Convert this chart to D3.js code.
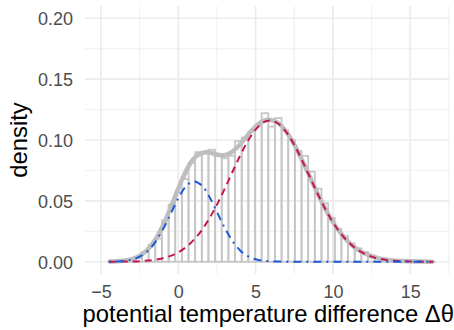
<!DOCTYPE html>
<html>
<head>
<meta charset="utf-8">
<script src="https://cdn.jsdelivr.net/npm/d3@7"></script>
<style>
  html, body { margin: 0; padding: 0; background: #fff; }
  svg { display: block; }
  text { font-family: "Liberation Sans", Arial, sans-serif; }
</style>
</head>
<body>
<svg id="chart" width="454" height="330"></svg>
<script>
// ---- data ----
const binStart = -4.5;
const binWidth = 0.43;
const histHeights = [0.0005, 0.0005, 0.001, 0.002, 0.003, 0.008, 0.014, 0.019, 0.034, 0.047,
  0.057, 0.068, 0.081, 0.090, 0.089, 0.092, 0.087, 0.085, 0.087, 0.099,
  0.102, 0.107, 0.112, 0.122, 0.111, 0.118, 0.108, 0.100, 0.091, 0.087,
  0.074, 0.060, 0.048, 0.036, 0.027, 0.021, 0.015, 0.011, 0.008, 0.005,
  0.003, 0.002, 0.001, 0.001, 0.0005, 0.0003, 0.0002, 0.0001, 0.0001];

const curveX = [-4.5, -4, -3.5, -3, -2.5, -2, -1.5, -1, -0.5, 0, 0.5, 1, 1.5, 2, 2.5, 3, 3.5, 4,
  4.5, 5, 5.5, 6, 6.5, 7, 7.5, 8, 8.5, 9, 9.5, 10, 10.5, 11, 11.5, 12, 12.5, 13, 13.5, 14,
  14.5, 15, 15.5, 16, 16.5];
const densityTotal = [0.0002, 0.0004, 0.0010, 0.0022, 0.0048, 0.0097, 0.0178, 0.0295, 0.0442,
  0.0600, 0.0745, 0.0848, 0.0893, 0.0898, 0.0880, 0.0875, 0.0905, 0.0965, 0.1040, 0.1110,
  0.1158, 0.1165, 0.1135, 0.1065, 0.0962, 0.0836, 0.0700, 0.0563, 0.0436, 0.0325, 0.0235,
  0.0163, 0.0109, 0.0071, 0.0045, 0.0028, 0.0016, 0.0009, 0.0005, 0.0003, 0.0002, 0.0001, 0.0000];
const componentWarm = [0.00003, 0.00006, 0.00012, 0.00025, 0.00049, 0.00092, 0.00166, 0.00289,
  0.00483, 0.00776, 0.0120, 0.0179, 0.0256, 0.0354, 0.0469, 0.0599, 0.0737, 0.0872, 0.0992,
  0.1085, 0.1144, 0.1160, 0.1131, 0.1062, 0.0960, 0.0834, 0.0698, 0.0562, 0.0435, 0.0324,
  0.0233, 0.0161, 0.0107, 0.0068, 0.0042, 0.0025, 0.0014, 0.00078, 0.00041, 0.00021,
  0.0001, 0.00005, 0.00002];
const componentCold = [0.00007, 0.00024, 0.00069, 0.00179, 0.00414, 0.0086, 0.0159, 0.0264,
  0.0392, 0.0521, 0.0620, 0.0660, 0.0629, 0.0536, 0.0408, 0.0279, 0.0170, 0.0093, 0.00454,
  0.00199, 0.00078, 0.00027, 0.00009, 0.00003, 0, 0, 0, 0, 0, 0, 0, 0, 0, 0, 0, 0, 0, 0,
  0, 0, 0, 0, 0];

const xMajorTicks = [-5, 0, 5, 10, 15];
const xMinorTicks = [-2.5, 2.5, 7.5, 12.5, 17.5];
const yMajorTicks = [0, 0.05, 0.10, 0.15, 0.20];
const yMinorTicks = [0.025, 0.075, 0.125, 0.175];
const xTitle = "potential temperature difference Δθ";
const yTitle = "density";

// ---- layout ----
const svg = d3.select("#chart");
const panel = { left: 85, right: 449.5, top: 6.1, bottom: 273.9 };
const x = d3.scaleLinear().domain([-6.035, 17.54]).range([panel.left, panel.right]);
const y = d3.scaleLinear().domain([-0.01, 0.21]).range([panel.bottom, panel.top]);

const grid = svg.append("g");
grid.selectAll("line.ymin").data(yMinorTicks).join("line")
  .attr("x1", panel.left).attr("x2", panel.right)
  .attr("y1", d => y(d)).attr("y2", d => y(d))
  .attr("stroke", "#EBEBEB").attr("stroke-width", 0.8);
grid.selectAll("line.xmin").data(xMinorTicks).join("line")
  .attr("y1", panel.top).attr("y2", panel.bottom)
  .attr("x1", d => x(d)).attr("x2", d => x(d))
  .attr("stroke", "#EBEBEB").attr("stroke-width", 0.8);
grid.selectAll("line.ymaj").data(yMajorTicks).join("line")
  .attr("x1", panel.left).attr("x2", panel.right)
  .attr("y1", d => y(d)).attr("y2", d => y(d))
  .attr("stroke", "#EBEBEB").attr("stroke-width", 1.6);
grid.selectAll("line.xmaj").data(xMajorTicks).join("line")
  .attr("y1", panel.top).attr("y2", panel.bottom)
  .attr("x1", d => x(d)).attr("x2", d => x(d))
  .attr("stroke", "#EBEBEB").attr("stroke-width", 1.6);

// histogram
const bins = histHeights.map((h, i) => ({ x0: binStart + i * binWidth, x1: binStart + (i + 1) * binWidth, h }));
svg.append("g").selectAll("rect").data(bins).join("rect")
  .attr("x", d => x(d.x0))
  .attr("width", d => x(d.x1) - x(d.x0))
  .attr("y", d => y(d.h))
  .attr("height", d => y(0) - y(d.h))
  .attr("fill", "none")
  .attr("stroke", "#C6C6C6")
  .attr("stroke-width", 1.8);

const line = d3.line().x(d => x(d[0])).y(d => y(d[1])).curve(d3.curveCatmullRom);

svg.append("path").datum(curveX.map((v, i) => [v, densityTotal[i]]))
  .attr("d", line).attr("fill", "none")
  .attr("stroke", "#BEBEBE").attr("stroke-width", 4.5).attr("stroke-linejoin", "round");

svg.append("path").datum(curveX.map((v, i) => [v, componentWarm[i]]))
  .attr("d", line).attr("fill", "none")
  .attr("stroke", "#C5174F").attr("stroke-width", 2)
  .attr("stroke-dasharray", "7,5");

svg.append("path").datum(curveX.map((v, i) => [v, componentCold[i]]))
  .attr("d", line).attr("fill", "none")
  .attr("stroke", "#1F5BD6").attr("stroke-width", 2)
  .attr("stroke-dasharray", "2,5,8,5");

// axes (text only, theme_minimal style)
const xAxis = d3.axisBottom(x).tickValues(xMajorTicks).tickSize(0).tickPadding(0);
const gx = svg.append("g").attr("transform", `translate(0,${panel.bottom})`).call(xAxis);
gx.select(".domain").remove();
gx.selectAll("text").attr("y", 24).attr("dy", 0)
  .attr("fill", "#4D4D4D").style("font-size", "18px").attr("font-family", null);

const yAxis = d3.axisLeft(y).tickValues(yMajorTicks).tickFormat(d3.format(".2f")).tickSize(0).tickPadding(0);
const gy = svg.append("g").attr("transform", `translate(${panel.left},0)`).call(yAxis);
gy.select(".domain").remove();
gy.selectAll("text").attr("x", -12).attr("dy", "0.36em")
  .attr("fill", "#4D4D4D").style("font-size", "18px").attr("font-family", null);

svg.append("text").attr("x", (panel.left + panel.right) / 2 + 1).attr("y", 322)
  .attr("text-anchor", "middle").attr("fill", "#000").style("font-size", "23.8px")
  .text(xTitle);

svg.append("text").attr("transform", `translate(27,${(panel.top + panel.bottom) / 2}) rotate(-90)`)
  .attr("text-anchor", "middle").attr("fill", "#000").style("font-size", "23.8px")
  .text(yTitle);
</script>
</body>
</html>
